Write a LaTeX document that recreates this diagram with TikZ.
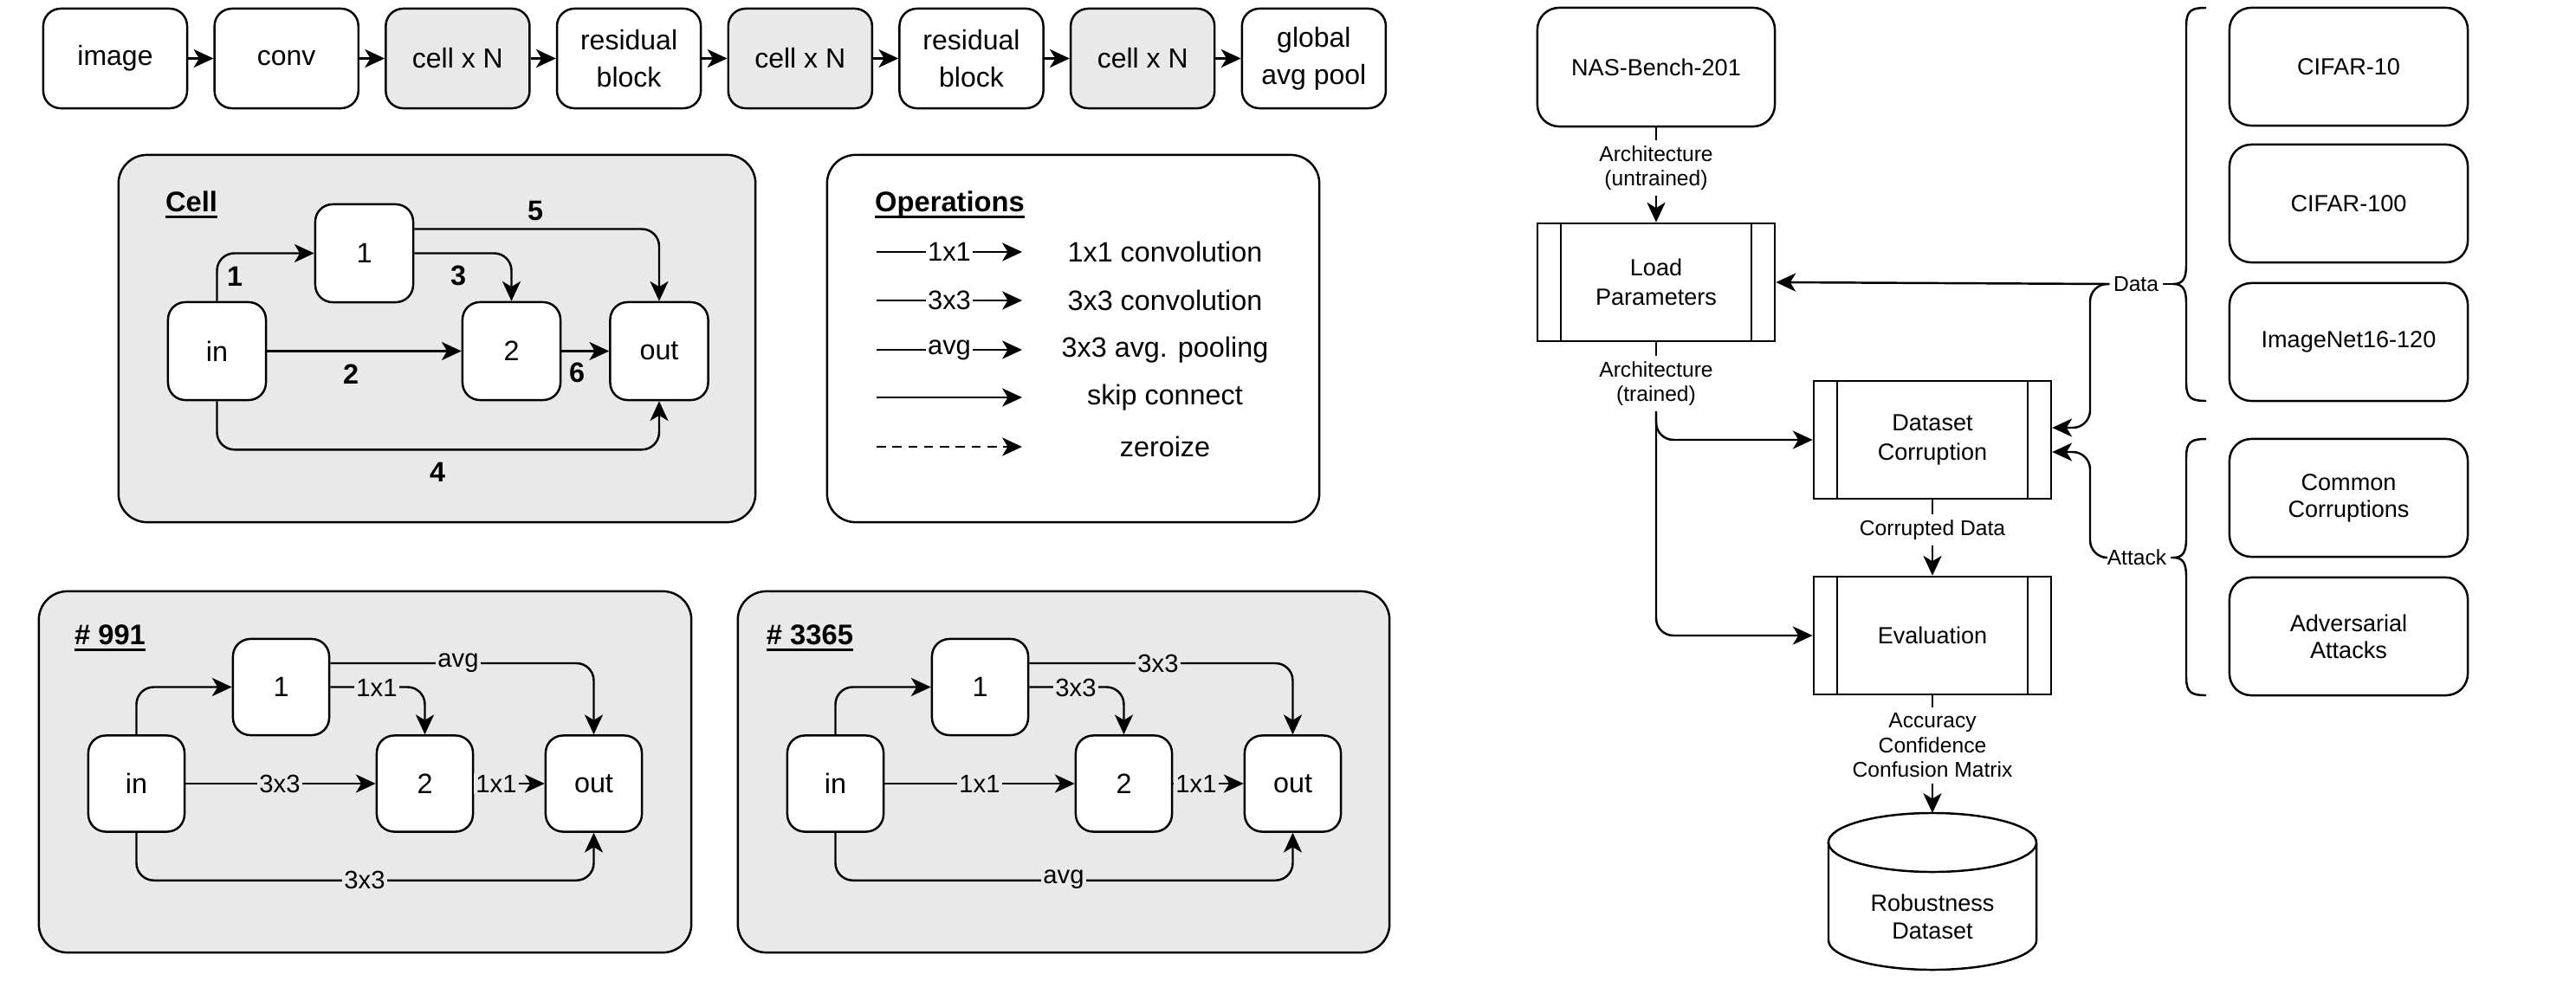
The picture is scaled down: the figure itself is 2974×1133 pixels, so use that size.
\documentclass[tikz,border=0pt]{standalone}
\usepackage{fontspec}
\setmainfont{Liberation Sans}
\usetikzlibrary{arrows.meta}
\definecolor{cellgray}{RGB}{233,233,233}
\newcommand\myul[1]{\setbox0\hbox{#1}\rlap{\rule[-2.1pt]{\wd0}{0.75pt}}\box0}
\begin{document}
\begin{tikzpicture}[x=0.01cm,y=-0.01cm,line width=0.7pt,
  >={Stealth[length=6.5pt,width=6pt,inset=1.8pt]},
  toprow/.style={draw,fill=white,rounded corners=0.2cm,minimum width=1.66cm,minimum height=1.15cm,align=center,inner sep=0pt,font=\fontsize{9.1}{12.3}\selectfont},
  graytop/.style={toprow,fill=cellgray},
  cnode/.style={draw,fill=white,rounded corners=0.2cm,minimum size=1.13cm,inner sep=0pt,font=\fontsize{9.2}{11}\selectfont},
  xnode/.style={cnode,minimum size=1.11cm},
  container/.style={draw,rounded corners=0.33cm,fill=cellgray,inner sep=0pt},
  title/.style={font=\bfseries\fontsize{9.3}{11}\selectfont,inner sep=0pt},
  numlbl/.style={font=\bfseries\fontsize{9.2}{11}\selectfont,inner sep=0pt},
  lbl/.style={font=\fontsize{8.3}{10}\selectfont,fill=cellgray,inner sep=0.6pt},
  oplbl/.style={font=\fontsize{8.8}{10}\selectfont,fill=white,inner sep=0.6pt},
  optext/.style={font=\fontsize{9.2}{11}\selectfont,inner sep=0pt},
  conn/.style={->,rounded corners=0.2cm},
  proc/.style={draw,fill=white,minimum width=2.74cm,minimum height=1.36cm,align=center,inner sep=0pt,
    font=\fontsize{7.7}{9.6}\selectfont,
    path picture={\draw ([xshift=0.27cm]path picture bounding box.north west) -- ([xshift=0.27cm]path picture bounding box.south west);
                  \draw ([xshift=-0.27cm]path picture bounding box.north east) -- ([xshift=-0.27cm]path picture bounding box.south east);}},
  rbox/.style={draw,fill=white,rounded corners=0.25cm,minimum width=2.75cm,minimum height=1.36cm,align=center,inner sep=0pt,font=\fontsize{7.7}{8.9}\selectfont},
  elbl/.style={font=\fontsize{7}{8.1}\selectfont,inner sep=1.5pt,align=center}]
\useasboundingbox (0,0) rectangle (2974,1133);

% ---------- top row ----------
\node[toprow]  (t1) at (133,67.5)    {image};
\node[toprow]  (t2) at (330.7,67.5)  {conv};
\node[graytop] (t3) at (528.4,67.5)  {cell x N};
\node[toprow]  (t4) at (726.1,67.5)  {residual\\block};
\node[graytop] (t5) at (923.8,67.5)  {cell x N};
\node[toprow]  (t6) at (1121.5,67.5) {residual\\block};
\node[graytop] (t7) at (1319.2,67.5) {cell x N};
\node[toprow]  (t8) at (1516.9,67.5) {global\\avg pool};
\foreach \a/\b in {t1/t2,t2/t3,t3/t4,t4/t5,t5/t6,t6/t7,t7/t8}
  \draw[->] (\a) -- (\b);

% ---------- Cell ----------
\node[container,minimum width=7.35cm,minimum height=4.24cm] (cellbox) at (504.5,391) {};
\node[title] (celltitle) at (221,236) {\myul{Cell}};
\node[cnode] (cin)  at (250.5,405.5) {in};
\node[cnode] (c1)   at (420.5,292.5) {1};
\node[cnode] (c2)   at (590.5,405.5) {2};
\node[cnode] (cout) at (761,405.5)   {out};
\draw[conn] (cin.north) |- (c1.west);
\draw[conn] (c1.east) -| (c2.north);
\draw[conn] ([yshift=0.28cm]c1.east) -| (cout.north);
\draw[->] (cin.east) -- (c2.west);
\draw[->] (c2.east) -- (cout.west);
\draw[conn] (cin.south) -- ++(0,56) -| (cout.south);
\node[numlbl] (e1) at (271,319) {1};
\node[numlbl] (e3) at (529,318) {3};
\node[numlbl] (e5) at (618,244) {5};
\node[numlbl] (e2) at (405,432) {2};
\node[numlbl] (e6) at (666,430) {6};
\node[numlbl] (e4) at (505,545) {4};

% ---------- Operations ----------
\node[draw,fill=white,rounded corners=0.33cm,minimum width=5.68cm,minimum height=4.24cm,inner sep=0pt] (opsbox) at (1239,391) {};
\node[title] (opstitle) at (1096.5,236) {\myul{Operations}};
\coordinate (o1a) at (1012,291); \coordinate (o1b) at (1180,291);
\coordinate (o2a) at (1012,347); \coordinate (o2b) at (1180,347);
\coordinate (o3a) at (1012,404); \coordinate (o3b) at (1180,404);
\coordinate (o4a) at (1012,459); \coordinate (o4b) at (1180,459);
\coordinate (o5a) at (1012,516); \coordinate (o5b) at (1180,516);
\draw[->] (o1a) -- node[oplbl] (ol1) {1x1} (o1b);
\draw[->] (o2a) -- node[oplbl] (ol2) {3x3} (o2b);
\draw[->] (o3a) -- node[oplbl] (ol3) {avg} (o3b);
\draw[->] (o4a) -- (o4b);
\draw[->,dash pattern=on 3pt off 2.2pt] (o5a) -- (o5b);
\node[optext] (ot1) at (1345,291) {1x1 convolution};
\node[optext] (ot2) at (1345,347) {3x3 convolution};
\node[optext] (ot3) at (1345,404) {3x3 avg. pooling};
\node[optext] (ot4) at (1345,459) {skip connect};
\node[optext] (ot5) at (1345,516) {zeroize};

% ---------- # 991 ----------
\node[container,minimum width=7.53cm,minimum height=4.17cm] (b991) at (421.5,891.5) {};
\node[title] (t991) at (127,737) {\myul{\# 991}};
\node[xnode] (ain)  at (157.5,905)   {in};
\node[xnode] (a1)   at (324.5,793.5) {1};
\node[xnode] (a2)   at (490.5,905)   {2};
\node[xnode] (aout) at (685.5,905)   {out};
\draw[conn] (ain.north) |- (a1.west);
\draw[conn] (a1.east) -| (a2.north);
\draw[conn] ([yshift=0.275cm]a1.east) -| (aout.north);
\draw[->] (ain.east) -- (a2.west);
\draw[->] (a2.east) -- (aout.west);
\draw[conn] (ain.south) -- ++(0,55) -| (aout.south);
\node[lbl] (al5) at (529,766)  {avg};
\node[lbl] (al3) at (435,794)  {1x1};
\node[lbl] (al2) at (323,905)  {3x3};
\node[lbl] (al6) at (573,905)  {1x1};
\node[lbl] (al4) at (421,1016) {3x3};

% ---------- # 3365 ----------
\node[container,minimum width=7.52cm,minimum height=4.17cm] (b3365) at (1228,891.5) {};
\node[title] (t3365) at (935,737) {\myul{\# 3365}};
\node[xnode] (bin)  at (964.5,905)    {in};
\node[xnode] (b1)   at (1131.5,793.5) {1};
\node[xnode] (b2)   at (1297.5,905)   {2};
\node[xnode] (bout) at (1492.5,905)   {out};
\draw[conn] (bin.north) |- (b1.west);
\draw[conn] (b1.east) -| (b2.north);
\draw[conn] ([yshift=0.275cm]b1.east) -| (bout.north);
\draw[->] (bin.east) -- (b2.west);
\draw[->] (b2.east) -- (bout.west);
\draw[conn] (bin.south) -- ++(0,55) -| (bout.south);
\node[lbl] (bl5) at (1337,766)  {3x3};
\node[lbl] (bl3) at (1242,794)  {3x3};
\node[lbl] (bl2) at (1131,905)  {1x1};
\node[lbl] (bl6) at (1381,905)  {1x1};
\node[lbl] (bl4) at (1228,1016) {avg};

% ---------- pipeline ----------
\node[draw,fill=white,rounded corners=0.25cm,minimum width=2.74cm,minimum height=1.37cm,inner sep=0pt,font=\fontsize{7.7}{9.6}\selectfont] (nas) at (1912,77.5) {NAS-Bench-201};
\node[proc] (load) at (1912,326) {Load\\Parameters};
\node[proc] (corr) at (2231,508) {Dataset\\Corruption};
\node[proc] (eval) at (2231,734) {Evaluation};

\node[elbl] (archU) at (1912,194) {Architecture\\(untrained)};
\draw (nas.south) -- (archU.north);
\draw[->] (archU.south) -- (load.north);
\node[elbl] (archT) at (1912,443) {Architecture\\(trained)};
\draw (load.south) -- (archT.north);
\draw[conn] (archT.south) |- (corr.west);
\draw[conn] (archT.south) |- (eval.west);
\node[elbl] (cdata) at (2231,612) {Corrupted Data};
\draw (corr.south) -- (cdata.north);
\draw[->] (cdata.south) -- (eval.north);
\node[elbl] (acc) at (2231,861) {Accuracy\\Confidence\\Confusion Matrix};
\draw (eval.south) -- (acc.north);
\coordinate (dbtop) at (2231,939);
\draw[->] (acc.south) -- (dbtop);

% cylinder
\draw[fill=white] (2111,973) -- (2111,1086)
  arc[start angle=180,end angle=360,x radius=1.2cm,y radius=0.34cm] -- (2351,973)
  arc[start angle=0,end angle=180,x radius=1.2cm,y radius=0.34cm] -- cycle;
\draw (2111,973) arc[start angle=180,end angle=360,x radius=1.2cm,y radius=0.34cm];
\node[align=center,inner sep=0pt,font=\fontsize{7.7}{9.1}\selectfont] (db) at (2231,1059) {Robustness\\Dataset};

% ---------- data sources ----------
\node[rbox] (cif10)  at (2711.5,77)  {CIFAR-10};
\node[rbox] (cif100) at (2711.5,235) {CIFAR-100};
\node[rbox] (imnet)  at (2711.5,395) {ImageNet16-120};
\node[rbox] (ccor)   at (2711.5,575) {Common\\Corruptions};
\node[rbox] (adv)    at (2711.5,735) {Adversarial\\Attacks};

% braces
\draw (2547,9) .. controls (2530,9) and (2524,12) .. (2524,30) -- (2524,306)
  .. controls (2524,322) and (2520,328) .. (2509,328)
  .. controls (2520,328) and (2524,334) .. (2524,350) -- (2524,442)
  .. controls (2524,460) and (2530,463) .. (2547,463);
\draw (2547,507) .. controls (2530,507) and (2524,510) .. (2524,528) -- (2524,622)
  .. controls (2524,638) and (2520,644) .. (2509,644)
  .. controls (2520,644) and (2524,650) .. (2524,666) -- (2524,782)
  .. controls (2524,800) and (2530,803) .. (2547,803);
\coordinate (dtip) at (2509,328);
\coordinate (atip) at (2509,644);
\node[elbl,inner sep=1pt] (datal) at (2466,328) {Data};
\node[elbl,inner sep=1pt] (attl)  at (2467,644) {Attack};
\draw (dtip) -- (datal.east);
\draw (atip) -- (attl.east);
\draw[->] (datal.west) -- (load.east);
\draw[conn] (datal.west) -- (2413,328) |- ([yshift=0.14cm]corr.east);
\draw[conn] (attl.west) -- (2413,644) |- ([yshift=-0.14cm]corr.east);
\end{tikzpicture}
\end{document}
